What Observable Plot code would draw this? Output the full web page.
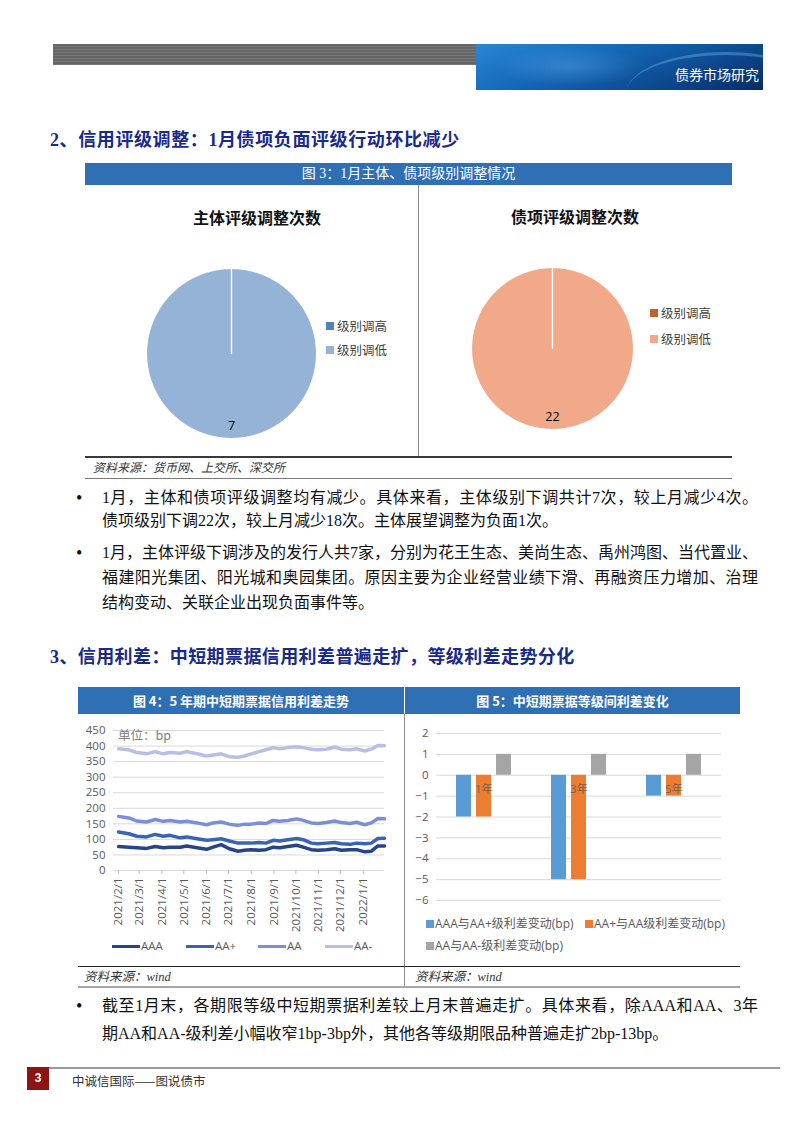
<!DOCTYPE html>
<html><head><meta charset="utf-8">
<script src="https://cdn.jsdelivr.net/npm/d3@7"></script>
<script src="https://cdn.jsdelivr.net/npm/@observablehq/plot@0.6"></script>
<style>
html,body{margin:0;padding:0;background:#fff;}
#page{position:relative;width:802px;height:1133px;overflow:hidden;background:#fff;font-family:"Liberation Serif","Noto Sans CJK SC",serif;color:#111;}
.abs{position:absolute;white-space:nowrap;}
.h2{font-family:"Liberation Serif","Noto Sans CJK SC";font-weight:bold;font-size:18px;color:#1a2a8a;line-height:24px;letter-spacing:0.6px;}
.bar{position:absolute;background:#2f6fb3;color:#fff;text-align:center;}
.body{font-size:16px;line-height:22px;color:#111;}
.just{text-align:justify;text-align-last:justify;white-space:normal;}
.src{font-style:italic;font-size:12px;color:#333;line-height:15px;}
.leg{font-family:"Noto Sans CJK SC";font-size:12.5px;color:#404040;line-height:16px;}
.sq{position:absolute;width:8px;height:8px;}
.lsw{position:absolute;height:3px;}
.lg{font-family:"Open Sans","Noto Sans CJK SC";font-size:11.5px;color:#595959;line-height:14px;}
.bul{font-size:18px;line-height:22px;}
</style></head>
<body><div id="page">
<!-- header -->
<div class="abs" style="left:53px;top:44px;width:423px;height:21px;background:repeating-linear-gradient(180deg,#666 0px,#666 2px,#777 2px,#777 3px);"></div>
<div class="abs" style="left:476px;top:44px;width:287px;height:46px;background:linear-gradient(160deg,#2a86d6 0%,#1466b5 40%,#0b3f82 80%,#082d60 100%);overflow:hidden;">
  <div class="abs" style="left:20px;top:2px;width:150px;height:40px;background:radial-gradient(ellipse at center,rgba(140,200,255,0.25),rgba(140,200,255,0) 70%);"></div>
  <div class="abs" style="left:150px;top:8px;width:200px;height:80px;border-radius:50%;border-top:3px solid rgba(120,200,255,0.35);"></div>
  <div class="abs" style="right:4px;top:20px;font-family:'Noto Sans CJK SC';font-size:14px;color:#fff;line-height:20px;">债券市场研究</div>
</div>

<div class="abs h2" style="left:50px;top:128px;">2、信用评级调整：1月债项负面评级行动环比减少</div>

<div class="bar" style="left:85px;top:163px;width:647px;height:22px;line-height:22px;font-family:'Liberation Serif','Noto Sans CJK SC';font-size:14px;">图 3：1月主体、债项级别调整情况</div>
<div class="abs" style="left:418px;top:185px;width:1px;height:272px;background:#8c8c8c;"></div>
<div class="abs" style="left:85px;top:456px;width:647px;height:2px;background:#3a3a3a;"></div>
<div class="abs src" style="left:93px;top:461px;">资料来源：货币网、上交所、深交所</div>
<div class="abs" style="left:85px;top:478px;width:647px;height:1px;background:#7a7a7a;"></div>

<div class="abs" style="left:157px;top:206px;width:200px;text-align:center;font-family:'Noto Sans CJK SC';font-weight:bold;font-size:16px;line-height:22px;color:#111;">主体评级调整次数</div>
<div class="abs" style="left:475px;top:205px;width:200px;text-align:center;font-family:'Noto Sans CJK SC';font-weight:bold;font-size:16px;line-height:22px;color:#111;">债项评级调整次数</div>
<div id="pie1" class="abs" style="left:146px;top:268px;"></div>
<div id="pie2" class="abs" style="left:471px;top:267px;"></div>
<div id="pieleg1"></div><div id="pieleg2"></div>

<!-- paragraph 1 -->
<div class="abs bul" style="left:76px;top:487px;">•</div>
<div class="abs body just" style="left:102px;top:487px;width:656px;">1月，主体和债项评级调整均有减少。具体来看，主体级别下调共计7次，较上月减少4次。</div>
<div class="abs body" style="left:102px;top:510px;">债项级别下调22次，较上月减少18次。主体展望调整为负面1次。</div>
<div class="abs bul" style="left:76px;top:542px;">•</div>
<div class="abs body just" style="left:102px;top:542px;width:656px;">1月，主体评级下调涉及的发行人共7家，分别为花王生态、美尚生态、禹州鸿图、当代置业、</div>
<div class="abs body just" style="left:102px;top:567px;width:656px;">福建阳光集团、阳光城和奥园集团。原因主要为企业经营业绩下滑、再融资压力增加、治理</div>
<div class="abs body" style="left:102px;top:592px;">结构变动、关联企业出现负面事件等。</div>

<div class="abs h2" style="left:50px;top:645px;letter-spacing:0.4px;">3、信用利差：中短期票据信用利差普遍走扩，等级利差走势分化</div>

<div class="bar" style="left:78px;top:687px;width:326px;height:27px;line-height:27px;font-family:'Noto Sans CJK SC';font-weight:bold;font-size:13px;">图 4：5 年期中短期票据信用利差走势</div>
<div class="bar" style="left:405px;top:687px;width:335px;height:27px;line-height:27px;font-family:'Noto Sans CJK SC';font-weight:bold;font-size:13px;">图 5：中短期票据等级间利差变化</div>
<div class="abs" style="left:404px;top:714px;width:1px;height:273px;background:#8c8c8c;"></div>
<div id="fig4" class="abs" style="left:78px;top:714px;"></div>
<div class="abs" style="left:118px;top:726px;font-family:'Noto Sans CJK SC';font-size:12.5px;color:#808080;line-height:18px;">单位：bp</div>
<div id="leg4"></div>
<div id="fig5" class="abs" style="left:405px;top:714px;"></div>
<div id="leg5"></div>
<div class="abs" style="left:78px;top:966px;width:662px;height:1px;background:#222;"></div>
<div class="abs src" style="left:84px;top:970px;font-size:12.5px;">资料来源：wind</div>
<div class="abs src" style="left:415px;top:970px;font-size:12.5px;">资料来源：wind</div>
<div class="abs" style="left:78px;top:986px;width:662px;height:2px;background:#a6a6a6;"></div>

<div class="abs bul" style="left:76px;top:995px;">•</div>
<div class="abs body just" style="left:102px;top:995px;width:656px;">截至1月末，各期限等级中短期票据利差较上月末普遍走扩。具体来看，除AAA和AA、3年</div>
<div class="abs body" style="left:102px;top:1023px;">期AA和AA-级利差小幅收窄1bp-3bp外，其他各等级期限品种普遍走扩2bp-13bp。</div>

<!-- footer -->
<div class="abs" style="left:48px;top:1067px;width:732px;height:2px;background:#9a9a9a;"></div>
<div class="abs" style="left:27px;top:1067px;width:22px;height:23px;background:#8b1414;color:#fff;font-family:'Liberation Sans';font-weight:bold;font-size:12px;line-height:23px;text-align:center;">3</div>
<div class="abs" style="left:72px;top:1072px;font-family:'Noto Sans CJK SC';font-size:12.5px;color:#333;line-height:17px;">中诚信国际——图说债市</div>
</div>

<script>
// ---------- data ----------
const pieCategories = ["级别调高", "级别调低"];
const issuerCounts = [0, 7];
const bondCounts = [0, 22];
const issuerColors = ["#4f81bd", "#95b3d7"];
const bondColors = ["#c0622b", "#f2a98a"];

const spreadDates = ["2021-02-01","2021-02-15","2021-02-26","2021-03-11","2021-03-23","2021-04-03","2021-04-12","2021-04-26","2021-05-05","2021-05-19","2021-06-01","2021-06-10","2021-06-21","2021-07-02","2021-07-14","2021-07-23","2021-08-01","2021-08-12","2021-08-21","2021-08-31","2021-09-09","2021-09-20","2021-10-02","2021-10-11","2021-10-22","2021-10-31","2021-11-12","2021-11-23","2021-12-02","2021-12-14","2021-12-23","2022-01-03","2022-01-12","2022-01-21","2022-01-30"];
const spreadAAA   = [77,75,73,71,77,73,75,75,79,73,68,75,83,70,62,65,67,65,67,75,73,77,81,75,67,65,67,70,65,67,67,60,62,79,79];
const spreadAAp   = [124,118,110,108,116,110,113,105,108,102,97,99,102,95,88,88,88,90,88,97,95,99,103,99,88,86,88,90,86,84,88,86,88,103,104];
const spreadAA    = [174,169,159,156,164,158,161,156,158,153,147,153,156,149,145,149,149,153,151,161,158,161,166,161,153,151,154,159,154,151,155,147,153,167,166];
const spreadAAm   = [391,388,379,375,382,375,379,377,382,375,368,371,375,366,364,368,375,382,388,395,391,395,398,395,390,388,390,397,390,388,391,384,390,402,401];
const spreadSeries = ["AAA", "AA+", "AA", "AA-"];
const spreadColors = ["#27448a", "#3b63b5", "#7b8fd6", "#b7c0e3"];
const monthTickLabels = ["2021/2/1","2021/3/1","2021/4/1","2021/5/1","2021/6/1","2021/7/1","2021/8/1","2021/9/1","2021/10/1","2021/11/1","2021/12/1","2022/1/1"];

const tenors = ["1年", "3年", "5年"];
const diffSeries = ["AAA与AA+级利差变动(bp)", "AA+与AA级利差变动(bp)", "AA与AA-级利差变动(bp)"];
const diffAAAvsAAp = [-2, -5, -1];
const diffAApvsAA = [-2, -5, -1];
const diffAAvsAAm = [1, 1, 1];
const diffColors = ["#5b9bd5", "#ed7d31", "#a5a5a5"];

// ---------- pies ----------
function pie(el, values, colors, size) {
  const arcs = d3.pie().sort(null)(values);
  const marks = [];
  const order = arcs.map((a, i) => i).sort((a, b) => values[b] - values[a]);
  for (const i of order) {
    const a = arcs[i];
    const pts = [{x: 0, y: 0}];
    const n = Math.max(1, Math.ceil((a.endAngle - a.startAngle) / 0.01));
    for (let j = 0; j <= n; j++) {
      const t = a.startAngle + (a.endAngle - a.startAngle) * j / n;
      pts.push({x: Math.sin(t), y: Math.cos(t)});
    }
    pts.push({x: 0, y: 0});
    marks.push(Plot.line(pts, {x: "x", y: "y", fill: colors[i], stroke: "#fff", strokeWidth: 1.2, curve: "linear-closed"}));
  }
  const labels = arcs.filter(a => a.value > 0).map(a => {
    const m = (a.startAngle + a.endAngle) / 2;
    return {x: 0.85 * Math.sin(m), y: 0.85 * Math.cos(m), t: String(a.value)};
  });
  marks.push(Plot.text(labels, {x: "x", y: "y", text: "t", fill: "#000", fontSize: 12.5, fontFamily: "Open Sans"}));
  const svg = Plot.plot({
    width: size, height: size, margin: 0,
    x: {domain: [-1, 1], axis: null}, y: {domain: [-1, 1], axis: null},
    marks
  });
  document.getElementById(el).appendChild(svg);
}
pie("pie1", issuerCounts, issuerColors, 170);
pie("pie2", bondCounts, bondColors, 162);

function pieLegend(el, x, ys, colors) {
  const c = document.getElementById(el);
  pieCategories.forEach((name, i) => {
    c.insertAdjacentHTML("beforeend",
      `<div class="sq" style="left:${x}px;top:${ys[i]-4}px;background:${colors[i]}"></div>` +
      `<div class="abs leg" style="left:${x+11}px;top:${ys[i]-8}px;">${name}</div>`);
  });
}
pieLegend("pieleg1", 326, [326, 350], issuerColors);
pieLegend("pieleg2", 650, [313, 339], bondColors);

// ---------- figure 4 ----------
const parse = d3.utcParse("%Y-%m-%d");
const lineData = [];
[spreadAAA, spreadAAp, spreadAA, spreadAAm].forEach((arr, s) => {
  arr.forEach((v, i) => lineData.push({date: parse(spreadDates[i]), value: v, series: spreadSeries[s]}));
});
const parseTick = d3.utcParse("%Y/%m/%d");
const tickDates = monthTickLabels.map(t => parseTick(t));
const fig4 = Plot.plot({
  width: 326, height: 218,
  marginLeft: 35, marginRight: 20, marginTop: 16, marginBottom: 62,
  style: {fontFamily: "Open Sans, Noto Sans CJK SC", fontSize: "11.5px", color: "#595959"},
  x: {type: "utc", domain: [parse("2021-01-25"), parse("2022-01-30")], label: null},
  y: {domain: [0, 450], label: null},
  color: {domain: spreadSeries, range: spreadColors},
  marks: [
    Plot.gridY(d3.range(0, 451, 50), {stroke: "#d9d9d9", strokeOpacity: 1}),
    Plot.axisY(d3.range(0, 451, 50), {tickSize: 0, tickPadding: 8, fontSize: 11.5, fill: "#595959"}),
    Plot.axisX(tickDates, {tickSize: 4, stroke: "#bfbfbf", tickRotate: -90, tickPadding: 3, fontSize: 11.5, fill: "#595959",
      tickFormat: (d, i) => monthTickLabels[i]}),
    Plot.line(lineData, {x: "date", y: "value", z: "series", stroke: "series", strokeWidth: 3.5, curve: "linear"})
  ]
});
document.getElementById("fig4").appendChild(fig4);

const leg4 = document.getElementById("leg4");
const leg4x = [112, 186, 258, 325];
spreadSeries.forEach((s, i) => {
  leg4.insertAdjacentHTML("beforeend",
    `<div class="lsw" style="left:${leg4x[i]}px;top:945px;width:28px;background:${spreadColors[i]}"></div>` +
    `<div class="abs lg" style="left:${leg4x[i]+29}px;top:939px;">${s}</div>`);
});

// ---------- figure 5 ----------
const barData = [];
[diffAAAvsAAp, diffAApvsAA, diffAAvsAAm].forEach((arr, s) => {
  arr.forEach((v, i) => barData.push({tenor: tenors[i], series: diffSeries[s], value: v}));
});
const fig5 = Plot.plot({
  width: 335, height: 198,
  marginLeft: 30, marginRight: 18, marginTop: 19, marginBottom: 12,
  style: {fontFamily: "Open Sans, Noto Sans CJK SC", fontSize: "11.5px", color: "#595959"},
  fx: {domain: tenors, padding: 0, axis: null, label: null},
  x: {domain: diffSeries, paddingInner: 0.24, paddingOuter: 0.9, axis: null},
  y: {domain: [-6, 2], label: null},
  color: {domain: diffSeries, range: diffColors},
  marks: [
    Plot.gridY(d3.range(-6, 3), {stroke: "#d9d9d9", strokeOpacity: 1}),
    Plot.axisY(d3.range(-6, 3), {tickSize: 0, tickPadding: 8, fontSize: 11.5, fill: "#595959"}),
    Plot.barY(barData, {fx: "tenor", x: "series", y: "value", fill: "series"}),
    Plot.text(tenors, {fx: d => d, y: d => 0, text: d => d, frameAnchor: "middle", dy: 14, fill: "#595959", fillOpacity: 0.8, fontSize: 11.5})
  ]
});
document.getElementById("fig5").appendChild(fig5);

const leg5 = document.getElementById("leg5");
const leg5pos = [[426, 924], [585, 924], [426, 946]];
diffSeries.forEach((s, i) => {
  const [x, y] = leg5pos[i];
  leg5.insertAdjacentHTML("beforeend",
    `<div class="sq" style="left:${x}px;top:${y-4}px;background:${diffColors[i]}"></div>` +
    `<div class="abs lg" style="left:${x+9}px;top:${y-8}px;font-size:12px;line-height:16px;">${s}</div>`);
});
</script>
</body></html>
